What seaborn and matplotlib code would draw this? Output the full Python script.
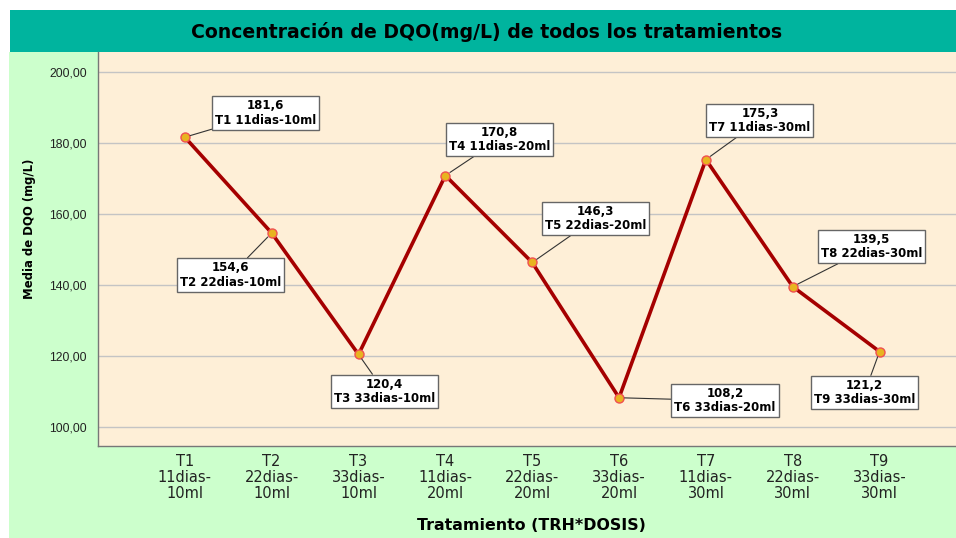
import matplotlib
matplotlib.use("Agg")
import matplotlib.pyplot as plt
from matplotlib.patches import Rectangle
import seaborn as sns
import pandas as pd

# ---- data ----
tratamientos = ["T1", "T2", "T3", "T4", "T5", "T6", "T7", "T8", "T9"]
trh = ["11dias", "22dias", "33dias", "11dias", "22dias", "33dias", "11dias", "22dias", "33dias"]
dosis = ["10ml", "10ml", "10ml", "20ml", "20ml", "20ml", "30ml", "30ml", "30ml"]
media_dqo = [181.6, 154.6, 120.4, 170.8, 146.3, 108.2, 175.3, 139.5, 121.2]
y_ticks = [100, 120, 140, 160, 180, 200]

tick_labels = [f"{t}\n{a}-\n{b}" for t, a, b in zip(tratamientos, trh, dosis)]
df = pd.DataFrame({"cat": tick_labels, "val": media_dqo})

# label box offsets (pixels) - layout only
label_offsets = [(81, 24), (-41, -42), (26, -37), (54, 36), (63, 44),
                 (106, -3), (54, 39), (79, 40), (-15, -41)]

sns.set_theme(style="white")
plt.rcParams["font.family"] = ["DejaVu Sans"]

W, H = 956, 538
fig = plt.figure(figsize=(W / 100, H / 100), dpi=100)
fig.patch.set_facecolor("white")

# green background and teal banner
fig.add_artist(Rectangle((9 / W, 0), 1 - 9 / W, (H - 52) / H, transform=fig.transFigure,
                         facecolor="#ccffcc", edgecolor="none", zorder=0))
fig.add_artist(Rectangle((10 / W, (H - 52) / H), 1 - 10 / W, 42 / H, transform=fig.transFigure,
                         facecolor="#00b49e", edgecolor="none", zorder=0))
fig.text(487 / W, (H - 32) / H, "Concentración de DQO(mg/L) de todos los tratamientos",
         ha="center", va="center", fontsize=13.6, fontweight="bold", color="black")

ax = fig.add_axes([98 / W, (H - 446) / H, 1 - 98 / W, (446 - 52) / H])
ax.set_facecolor("#feefd7")

sns.pointplot(data=df, x="cat", y="val", ax=ax, color="#a50000",
              linewidth=2.6, markers="o", markersize=6.5,
              markerfacecolor="#e8b420", markeredgecolor="#f05050",
              markeredgewidth=1.0, zorder=3)

ax.set_ylim(94.6, 205.6)
ax.set_xlim(-1.0, 8.88)
ax.set_yticks(y_ticks)
ax.set_yticklabels([f"{v:.2f}".replace(".", ",") for v in y_ticks],
                   fontsize=8.8, color="#222222", family="Liberation Sans")
ax.set_xticks(range(len(tick_labels)))
ax.set_xticklabels(tick_labels, fontsize=10.5, color="#222222", linespacing=1.05)
ax.yaxis.grid(True, color="#c4c4c4", linewidth=1.0, zorder=0)
ax.xaxis.grid(False)
ax.set_axisbelow(True)
ax.tick_params(axis="y", length=4, color="#999999", width=0.8, pad=4)
ax.tick_params(axis="x", length=0, pad=6)
for s in ["top", "right"]:
    ax.spines[s].set_visible(False)
for s in ["left", "bottom"]:
    ax.spines[s].set_color("#777777")
    ax.spines[s].set_linewidth(1.0)
ax.set_xlabel("")
ax.set_ylabel("")

fig.text(30 / W, (H - 229) / H, "Media de DQO (mg/L)", rotation=90, ha="center", va="center",
         fontsize=8.4, fontweight="bold", color="black")
fig.text(531 / W, (H - 525) / H, "Tratamiento (TRH*DOSIS)", ha="center", va="center",
         fontsize=11.4, fontweight="bold", color="black")

for i, (v, t, a, b) in enumerate(zip(media_dqo, tratamientos, trh, dosis)):
    txt = f"{v:.1f}".replace(".", ",") + f"\n{t} {a}-{b}"
    ax.annotate(txt, xy=(i, v), xytext=label_offsets[i], textcoords="offset pixels",
                ha="center", va="center", fontsize=8.5, fontweight="bold", color="black",
                linespacing=1.15, zorder=5,
                bbox=dict(boxstyle="square,pad=0.25", fc="white", ec="#666666", lw=1.0),
                arrowprops=dict(arrowstyle="-", color="#333333", lw=0.8, shrinkA=0, shrinkB=4))

fig.savefig("out.png", dpi=100, facecolor="white")
